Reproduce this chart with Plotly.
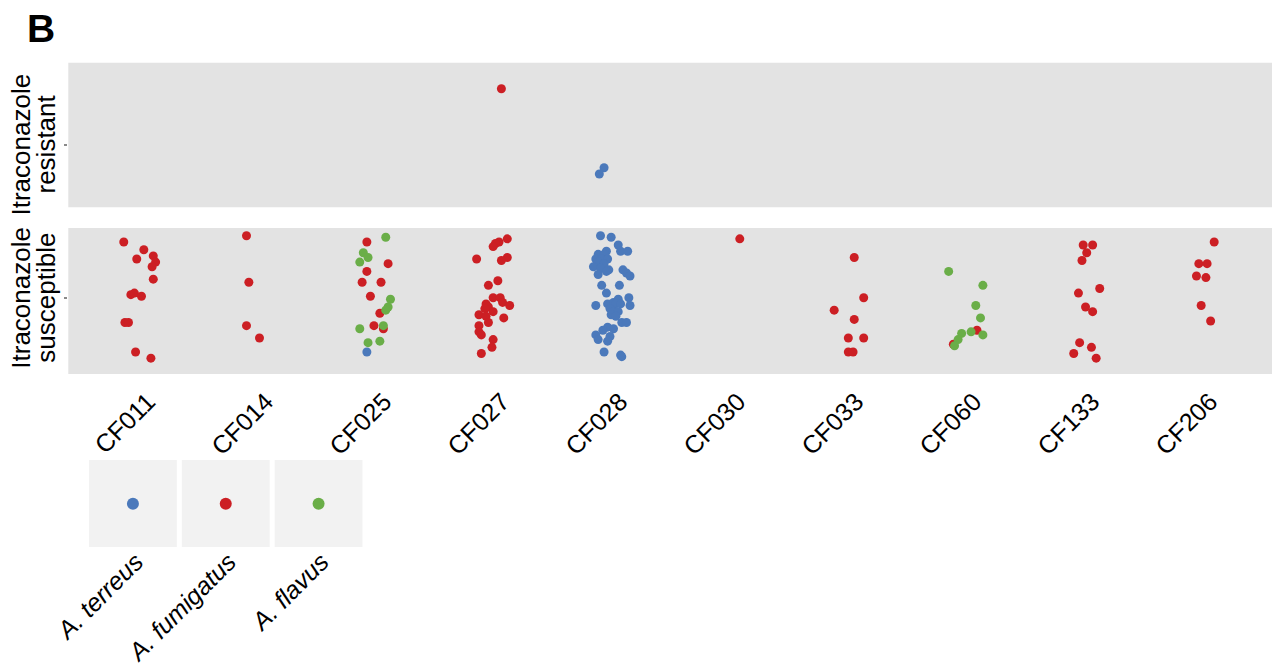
import plotly.graph_objects as go

# ---------------- data ----------------
CATEGORIES = ["CF011", "CF014", "CF025", "CF027", "CF028",
              "CF030", "CF033", "CF060", "CF133", "CF206"]
SPECIES = ["A. terreus", "A. fumigatus", "A. flavus"]
COLORS = {"A. terreus": "#4b79bb", "A. fumigatus": "#cc1f24", "A. flavus": "#6aae48"}
STATUS = ["Itraconazole resistant", "Itraconazole susceptible"]

# each point: (isolate, status index, jitter along x (category units), jitter along y)
terreus_points = [
    ("CF025", 1, -0.07, -0.35),
    ("CF028", 0, -0.06, -0.15), ("CF028", 0, -0.10, -0.19),
    ("CF028", 1, -0.09, 0.40), ("CF028", 1, 0.00, 0.39), ("CF028", 1, 0.06, 0.34),
    ("CF028", 1, -0.04, 0.30), ("CF028", 1, 0.08, 0.30), ("CF028", 1, 0.14, 0.30),
    ("CF028", 1, -0.11, 0.28), ("CF028", 1, -0.06, 0.28), ("CF028", 1, -0.13, 0.25),
    ("CF028", 1, -0.08, 0.25), ("CF028", 1, -0.03, 0.25), ("CF028", 1, -0.11, 0.23),
    ("CF028", 1, -0.06, 0.22), ("CF028", 1, -0.15, 0.20), ("CF028", 1, -0.09, 0.19),
    ("CF028", 1, -0.02, 0.18), ("CF028", 1, -0.04, 0.17), ("CF028", 1, 0.10, 0.18),
    ("CF028", 1, 0.13, 0.16), ("CF028", 1, 0.16, 0.14), ("CF028", 1, -0.11, 0.15),
    ("CF028", 1, -0.08, 0.08), ("CF028", 1, 0.07, 0.08), ("CF028", 1, -0.04, 0.03),
    ("CF028", 1, 0.15, 0.00), ("CF028", 1, 0.06, -0.01), ("CF028", 1, -0.13, -0.05),
    ("CF028", 1, -0.03, -0.04), ("CF028", 1, 0.02, -0.03), ("CF028", 1, 0.04, -0.04),
    ("CF028", 1, 0.08, -0.04), ("CF028", 1, 0.16, -0.05), ("CF028", 1, -0.01, -0.07),
    ("CF028", 1, 0.02, -0.09), ("CF028", 1, 0.06, -0.09), ("CF028", 1, 0.00, -0.11),
    ("CF028", 1, 0.04, -0.12), ("CF028", 1, 0.09, -0.16), ("CF028", 1, 0.13, -0.16),
    ("CF028", 1, -0.03, -0.19), ("CF028", 1, -0.07, -0.21), ("CF028", 1, 0.02, -0.20),
    ("CF028", 1, -0.13, -0.24), ("CF028", 1, -0.01, -0.25), ("CF028", 1, -0.11, -0.27),
    ("CF028", 1, -0.03, -0.28), ("CF028", 1, -0.06, -0.35), ("CF028", 1, 0.08, -0.37),
    ("CF028", 1, 0.09, -0.38),
]

fumigatus_points = [
    ("CF011", 1, -0.13, 0.36), ("CF011", 1, 0.04, 0.31), ("CF011", 1, -0.02, 0.25),
    ("CF011", 1, 0.12, 0.27), ("CF011", 1, 0.14, 0.23), ("CF011", 1, 0.11, 0.20),
    ("CF011", 1, 0.12, 0.12), ("CF011", 1, -0.07, 0.02), ("CF011", 1, -0.04, 0.03),
    ("CF011", 1, 0.02, 0.01), ("CF011", 1, -0.12, -0.16), ("CF011", 1, -0.09, -0.16),
    ("CF011", 1, -0.03, -0.35), ("CF011", 1, 0.10, -0.39),
    ("CF014", 1, -0.09, 0.40), ("CF014", 1, -0.07, 0.10), ("CF014", 1, -0.09, -0.18),
    ("CF014", 1, 0.02, -0.26),
    ("CF025", 1, -0.07, 0.36), ("CF025", 1, 0.11, 0.22), ("CF025", 1, -0.07, 0.17),
    ("CF025", 1, -0.11, 0.10), ("CF025", 1, 0.05, 0.10), ("CF025", 1, -0.04, 0.01),
    ("CF025", 1, 0.04, -0.10), ("CF025", 1, -0.01, -0.18), ("CF025", 1, 0.07, -0.20),
    ("CF027", 0, 0.07, 0.36),
    ("CF027", 1, 0.12, 0.38), ("CF027", 1, 0.05, 0.36), ("CF027", 1, 0.02, 0.35),
    ("CF027", 1, 0.00, 0.33), ("CF027", 1, -0.14, 0.25), ("CF027", 1, 0.12, 0.26),
    ("CF027", 1, 0.07, 0.24), ("CF027", 1, 0.04, 0.11), ("CF027", 1, -0.04, 0.08),
    ("CF027", 1, 0.00, 0.00), ("CF027", 1, 0.06, 0.00), ("CF027", 1, 0.08, -0.03),
    ("CF027", 1, 0.14, -0.05), ("CF027", 1, -0.06, -0.04), ("CF027", 1, -0.04, -0.06),
    ("CF027", 1, -0.07, -0.07), ("CF027", 1, 0.00, -0.09), ("CF027", 1, -0.12, -0.11),
    ("CF027", 1, -0.06, -0.12), ("CF027", 1, 0.09, -0.13), ("CF027", 1, -0.04, -0.16),
    ("CF027", 1, -0.12, -0.18), ("CF027", 1, -0.12, -0.22), ("CF027", 1, -0.10, -0.24),
    ("CF027", 1, 0.00, -0.27), ("CF027", 1, -0.01, -0.32), ("CF027", 1, -0.10, -0.36),
    ("CF030", 1, 0.09, 0.38),
    ("CF033", 1, 0.06, 0.26), ("CF033", 1, 0.14, 0.00), ("CF033", 1, -0.11, -0.08),
    ("CF033", 1, 0.06, -0.14), ("CF033", 1, 0.01, -0.26), ("CF033", 1, 0.14, -0.26),
    ("CF033", 1, 0.01, -0.35), ("CF033", 1, 0.05, -0.35),
    ("CF060", 1, 0.10, -0.21), ("CF060", 1, -0.10, -0.30),
    ("CF133", 1, 0.00, 0.34), ("CF133", 1, 0.08, 0.34), ("CF133", 1, 0.03, 0.29),
    ("CF133", 1, -0.01, 0.24), ("CF133", 1, 0.14, 0.06), ("CF133", 1, -0.04, 0.03),
    ("CF133", 1, 0.02, -0.06), ("CF133", 1, 0.08, -0.09), ("CF133", 1, -0.03, -0.29),
    ("CF133", 1, 0.07, -0.32), ("CF133", 1, -0.08, -0.36), ("CF133", 1, 0.11, -0.39),
    ("CF206", 1, 0.11, 0.36), ("CF206", 1, -0.02, 0.22), ("CF206", 1, 0.05, 0.22),
    ("CF206", 1, -0.04, 0.14), ("CF206", 1, 0.04, 0.13), ("CF206", 1, 0.00, -0.05),
    ("CF206", 1, 0.08, -0.15),
]

flavus_points = [
    ("CF025", 1, 0.09, 0.39), ("CF025", 1, -0.10, 0.29), ("CF025", 1, -0.06, 0.26),
    ("CF025", 1, -0.13, 0.23), ("CF025", 1, 0.13, -0.01), ("CF025", 1, 0.11, -0.06),
    ("CF025", 1, 0.09, -0.08), ("CF025", 1, 0.07, -0.18), ("CF025", 1, -0.13, -0.20),
    ("CF025", 1, -0.06, -0.29), ("CF025", 1, 0.04, -0.28),
    ("CF060", 1, -0.14, 0.17), ("CF060", 1, 0.15, 0.08), ("CF060", 1, 0.09, -0.05),
    ("CF060", 1, 0.13, -0.13), ("CF060", 1, 0.05, -0.22), ("CF060", 1, 0.15, -0.24),
    ("CF060", 1, -0.03, -0.23), ("CF060", 1, -0.06, -0.27), ("CF060", 1, -0.09, -0.31),
]

POINTS = {"A. terreus": terreus_points, "A. fumigatus": fumigatus_points, "A. flavus": flavus_points}

# ---------------- figure ----------------
W, H = 1274, 667
FONT = "Liberation Sans, Arial, Helvetica, sans-serif"


def px_x(p):
    return p / W


def px_y(p):
    return 1 - p / H


fig = go.Figure()

axis_pairs = [("x", "y"), ("x2", "y2")]
for sp in SPECIES:
    pts = POINTS[sp]
    for si in range(2):
        sel = [p for p in pts if p[1] == si]
        if not sel:
            continue
        xs = [CATEGORIES.index(p[0]) + p[2] for p in sel]
        ys = [p[3] for p in sel]
        xa, ya = axis_pairs[si]
        fig.add_trace(go.Scatter(
            x=xs, y=ys, mode="markers", xaxis=xa, yaxis=ya,
            marker=dict(color=COLORS[sp], size=9, line=dict(width=0)),
            name=sp, showlegend=False, hoverinfo="skip", cliponaxis=False))

# legend as its own small panel
fig.add_trace(go.Scatter(
    x=list(range(len(SPECIES))), y=[0] * len(SPECIES), mode="markers",
    xaxis="x3", yaxis="y3",
    marker=dict(color=[COLORS[s] for s in SPECIES], size=12, line=dict(width=0)),
    showlegend=False, hoverinfo="skip"))

shapes = []
for i in range(len(SPECIES)):
    shapes.append(dict(type="rect", xref="x3", yref="y3",
                       x0=i - 0.473, x1=i + 0.473, y0=-0.5, y1=0.5,
                       fillcolor="#f2f2f2", line=dict(width=0), layer="below"))

panel_bg = "#e3e3e3"
for xr, yr in (("x domain", "y domain"), ("x2 domain", "y2 domain")):
    shapes.append(dict(type="rect", xref=xr, yref=yr, x0=0, x1=1, y0=0, y1=1,
                       fillcolor=panel_bg, line=dict(width=0), layer="below"))

xdom = [px_x(68.3), px_x(1272)]
common_x = dict(range=[-0.6, 9.6], domain=xdom, showgrid=False, zeroline=False,
                tickvals=list(range(len(CATEGORIES))), ticktext=CATEGORIES,
                ticks="", showline=False, fixedrange=True, automargin=False)
common_y = dict(showgrid=False, zeroline=False, tickvals=[0], ticktext=[""],
                ticks="outside", ticklen=3, tickwidth=2, tickcolor="#8a8a8a",
                showline=False, fixedrange=True, automargin=False)

TOP_TICK_PX, BOTTOM_TICK_PX = 144.5, 297.7

fig.update_layout(
    width=W, height=H, autosize=False,
    margin=dict(l=0, r=0, t=0, b=0, autoexpand=False),
    paper_bgcolor="white", plot_bgcolor="white",
    font=dict(family=FONT, color="black"),
    shapes=shapes,
    xaxis=dict(common_x, anchor="y", showticklabels=False),
    yaxis=dict(common_y, anchor="x", domain=[px_y(207.3), px_y(62.7)], range=[-0.405, 0.528]),
    xaxis2=dict(common_x, anchor="y2", showticklabels=True, tickangle=-45,
                tickfont=dict(size=25, family=FONT, color="black"),
                ticklabelshift=9, ticklabelstandoff=7),
    yaxis2=dict(common_y, anchor="x2", domain=[px_y(374), px_y(228)], range=[-0.492, 0.45]),
    xaxis3=dict(anchor="y3", domain=[px_x(86.5), px_x(365)], range=[-0.5, 2.5],
                showgrid=False, zeroline=False, showline=False, ticks="",
                tickvals=list(range(len(SPECIES))),
                ticktext=["<i>%s</i>" % s for s in SPECIES], tickangle=-45,
                tickfont=dict(size=25, family=FONT, color="black"), fixedrange=True,
                automargin=False, ticklabelshift=3, ticklabelstandoff=-6),
    yaxis3=dict(anchor="x3", domain=[px_y(547.3), px_y(460)], range=[-0.5, 0.5],
                showgrid=False, zeroline=False, showline=False, showticklabels=False,
                ticks="", fixedrange=True, automargin=False),
)

annotations = [
    dict(text="<b>B</b>", x=px_x(41), y=px_y(29), xref="paper", yref="paper",
         showarrow=False, font=dict(size=39, family=FONT, color="black"),
         xanchor="center", yanchor="middle"),
]
titles = [("Itraconazole", 21, TOP_TICK_PX), ("resistant", 46, TOP_TICK_PX),
          ("Itraconazole", 21, BOTTOM_TICK_PX), ("susceptible", 46, BOTTOM_TICK_PX)]
for txt, xp, yp in titles:
    annotations.append(dict(text=txt, x=px_x(xp), y=px_y(yp), xref="paper", yref="paper",
                            showarrow=False, textangle=-90,
                            font=dict(size=26, family=FONT, color="black"),
                            xanchor="center", yanchor="middle"))
fig.update_layout(annotations=annotations)

post = ("document.documentElement.style.margin='0';document.documentElement.style.overflow='hidden';"
        "document.body.style.margin='0';document.body.style.padding='0';document.body.style.overflow='hidden';"
        "var gd=document.getElementById('{plot_id}');"
        "Plotly.relayout(gd,{width:1274,height:667});")

fig.write_html("out.html", config={"responsive": False, "displayModeBar": False},
               default_width="1274px", default_height="667px", post_script=post)
